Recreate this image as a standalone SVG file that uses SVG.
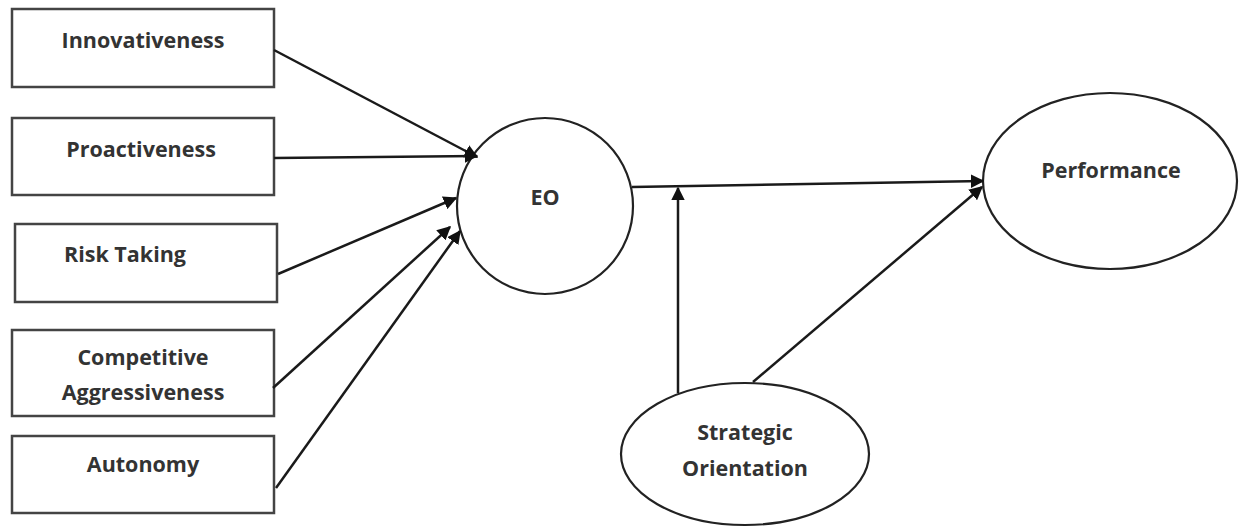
<svg xmlns="http://www.w3.org/2000/svg" width="1243" height="527" viewBox="0 0 1243 527">
<style>
.box{fill:#fff;stroke:#444;stroke-width:2.5}
.ell{fill:#fff;stroke:#222;stroke-width:2.2}
.lbl{font-family:"Open Sans","Liberation Sans",sans-serif;font-weight:700;font-size:21.5px;fill:#333;text-anchor:middle}
.con{stroke:#1a1a1a;stroke-width:2.5;fill:none;marker-end:url(#ah)}
</style>
<defs>
<marker id="ah" viewBox="0 0 10 10" refX="9" refY="5" markerWidth="5.5" markerHeight="5.5" orient="auto" markerUnits="strokeWidth">
<path d="M0,0 L10,5 L0,10 z" fill="#111"/>
</marker>
</defs>
<rect width="1243" height="527" fill="#fff"/>
<g id="innovativeness"><rect class="box" x="12" y="9" width="262" height="78"/><text class="lbl" x="143" y="48">Innovativeness</text></g>
<g id="proactiveness"><rect class="box" x="12" y="118" width="262" height="77"/><text class="lbl" x="141" y="157">Proactiveness</text></g>
<g id="risk-taking"><rect class="box" x="15" y="224" width="262" height="78"/><text class="lbl" x="125" y="262">Risk Taking</text></g>
<g id="competitive-aggressiveness"><rect class="box" x="12" y="330" width="262" height="86"/><text class="lbl" x="143" y="365">Competitive</text><text class="lbl" x="143" y="400">Aggressiveness</text></g>
<g id="autonomy"><rect class="box" x="12" y="436" width="262" height="77"/><text class="lbl" x="143" y="472">Autonomy</text></g>
<g id="eo"><circle class="ell" cx="545" cy="206" r="88"/><text class="lbl" x="545" y="205">EO</text></g>
<g id="performance"><ellipse class="ell" cx="1110" cy="181" rx="127" ry="88"/><text class="lbl" x="1111" y="178">Performance</text></g>
<g id="strategic-orientation"><ellipse class="ell" cx="745" cy="454" rx="124" ry="71"/><text class="lbl" x="745" y="440">Strategic</text><text class="lbl" x="745" y="476">Orientation</text></g>
<g id="connectors">
<line class="con" x1="274" y1="50" x2="477" y2="157"/>
<line class="con" x1="274" y1="158" x2="477" y2="156"/>
<line class="con" x1="278" y1="274" x2="456" y2="198"/>
<line class="con" x1="273" y1="388" x2="450" y2="227"/>
<line class="con" x1="276" y1="488" x2="460" y2="231"/>
<line class="con" x1="632" y1="187" x2="983" y2="181"/>
<line class="con" x1="678" y1="393" x2="678" y2="188"/>
<line class="con" x1="753" y1="382" x2="982" y2="187"/>
</g>
</svg>
